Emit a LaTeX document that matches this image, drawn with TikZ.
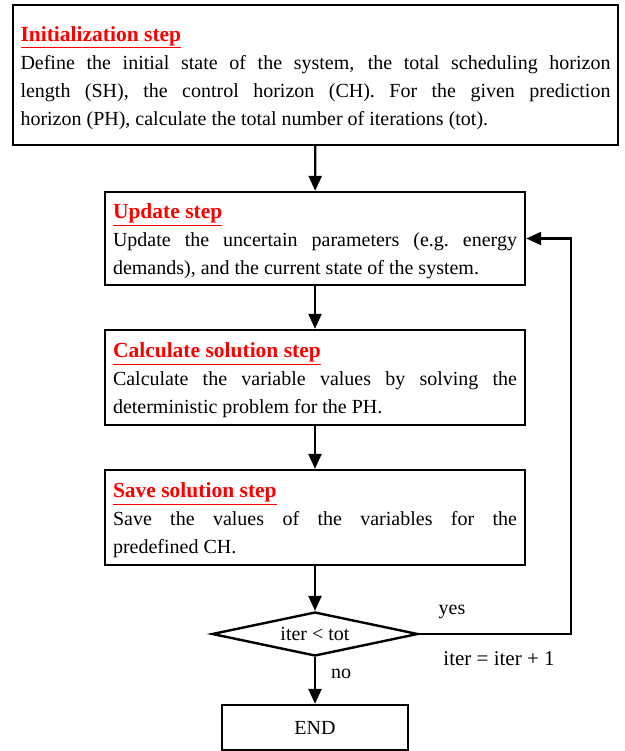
\documentclass[tikz,border=0pt]{standalone}
\usepackage{fontspec}
\setmainfont{Liberation Serif}
\usetikzlibrary{shapes.geometric,arrows.meta}
\begin{document}
\begin{tikzpicture}[x=1pt,y=-1pt,
  every node/.style={font=\fontsize{20}{28}\selectfont},
  box/.style={draw,line width=2.4pt,inner xsep=7pt,inner ysep=0pt,align=justify},
  arr/.style={line width=2.4pt,-{Triangle[length=15pt,width=13pt]}},
  ln/.style={line width=2.4pt}]
\useasboundingbox (0,0) rectangle (624,751);
\newcommand{\steptitle}[1]{\rule{0pt}{21pt}\textcolor{red}{\underline{\fontsize{21.5}{28}\selectfont\textbf{#1}}}}
\node[box,minimum width=605pt,minimum height=140pt,text width=590pt] (init) at (315.5,75)
 {\steptitle{Initialization step}\\
 Define the initial state of the system, the total scheduling horizon\linebreak
 length (SH), the control horizon (CH). For the given prediction\linebreak
 horizon (PH), calculate the total number of iterations (tot).};
\node[box,minimum width=420pt,minimum height=93pt,text width=404pt] (upd) at (315,238.5)
 {\steptitle{Update step}\\
 Update the uncertain parameters (e.g.\ energy\linebreak
 demands), and the current state of the system.};
\node[box,minimum width=420pt,minimum height=95pt,text width=404pt] (calc) at (315,377.5)
 {\steptitle{Calculate solution step}\\
 Calculate the variable values by solving the\linebreak
 deterministic problem for the PH.};
\node[box,minimum width=420pt,minimum height=95pt,text width=404pt] (save) at (315,517.5)
 {\steptitle{Save solution step}\\
 Save the values of the variables for the\linebreak
 predefined CH.};
\node[draw,line width=2.4pt,diamond,shape aspect=4.7,inner sep=0pt,minimum width=206pt,minimum height=44pt] (dec) at (315,634) {iter < tot};
\node[draw,line width=2.4pt,minimum width=186pt,minimum height=45pt,inner sep=0pt] (end) at (315,727.5) {END};
\coordinate (c1) at (571,634);
\coordinate (c2) at (571,238.5);
\draw[arr] (init) -- (upd);
\draw[arr] (upd) -- (calc);
\draw[arr] (calc) -- (save);
\draw[arr] (save) -- (dec);
\draw[arr] (dec) -- (end);
\draw[arr] (dec.east) -- (c1) -- (c2) -- (upd.east);
\node (yes) at (452,612) {yes};
\node[font=\fontsize{21}{28}\selectfont] (inc) at (499,659) {iter = iter + 1};
\node (no) at (341,674) {no};
\end{tikzpicture}
\end{document}
